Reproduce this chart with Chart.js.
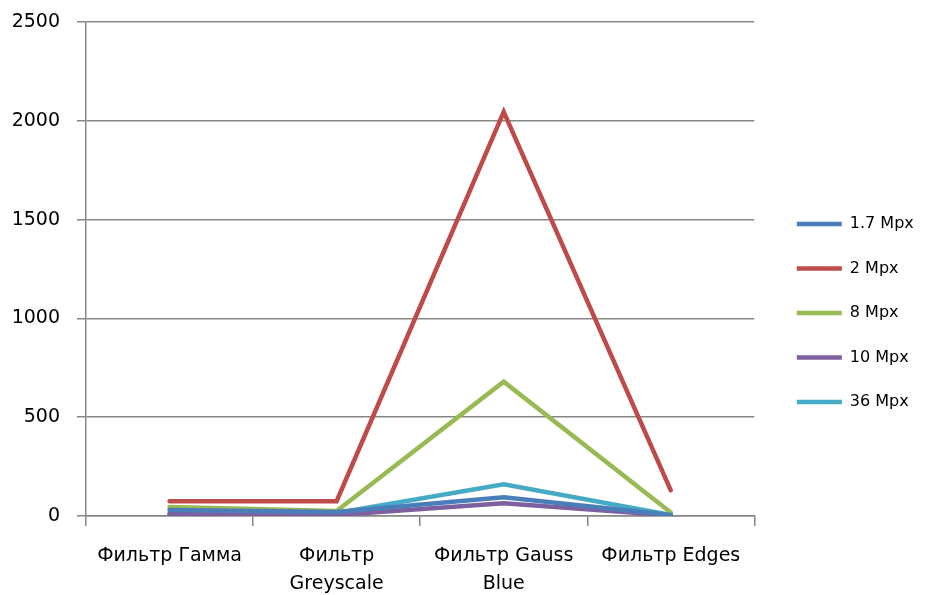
<!DOCTYPE html>
<html>
<head>
<meta charset="utf-8">
<script src="https://cdn.jsdelivr.net/npm/chart.js@4/dist/chart.umd.min.js"></script>
<style>
  body { margin: 0; background: #fff; }
</style>
</head>
<body>
<canvas id="grafico" width="928" height="595"></canvas>
<script>
// Категории и данные
const categories = [
    'Фильтр Гамма',
    ['Фильтр', 'Greyscale'],
    ['Фильтр Gauss', 'Blue'],
    'Фильтр Edges'
];
const mpx17 = [30, 20, 95, 5];
const mpx2 = [75, 75, 2045, 130];
const mpx8 = [45, 25, 680, 18];
const mpx10 = [10, 5, 65, 3];
const mpx36 = [10, 15, 160, 5];
const yTicks = [0, 500, 1000, 1500, 2000, 2500];

const font = '"DejaVu Sans", Verdana, sans-serif';
const gris = '#868686';

function serie(label, data, color) {
    return {
        label: label,
        data: data,
        borderColor: color,
        backgroundColor: color,
        borderWidth: 4.5,
        pointRadius: 0,
        tension: 0,
        borderCapStyle: 'round'
    };
}

new Chart(document.getElementById('grafico'), {
    type: 'line',
    data: {
        labels: categories,
        datasets: [
            serie('1.7 Mpx', mpx17, '#4a7ebb'),
            serie('2 Mpx', mpx2, '#be4b48'),
            serie('8 Mpx', mpx8, '#98b954'),
            serie('10 Mpx', mpx10, '#7d60a0'),
            serie('36 Mpx', mpx36, '#46aac5')
        ]
    },
    options: {
        responsive: false,
        animation: false,
        layout: { padding: { top: 0, right: 6, left: 0, bottom: -19 } },
        plugins: {
            tooltip: { enabled: false },
            legend: {
                position: 'right',
                // пустой заголовок сдвигает легенду немного вниз
                title: { display: true, text: '', padding: 6, font: { size: 10, lineHeight: '0px' } },
                labels: {
                    usePointStyle: true,
                    pointStyle: 'line',
                    pointStyleWidth: 45,
                    padding: 28.5,
                    color: '#000',
                    font: { family: font, size: 16 }
                }
            }
        },
        scales: {
            x: {
                offset: true,
                grid: {
                    offset: true,
                    drawOnChartArea: false,
                    drawTicks: true,
                    tickLength: 10,
                    color: gris,
                    lineWidth: 1.5
                },
                border: { color: gris, width: 1.5 },
                ticks: {
                    color: '#000',
                    padding: 16,
                    maxRotation: 0,
                    autoSkip: false,
                    font: { family: font, size: 19, lineHeight: '28px' }
                }
            },
            y: {
                min: 0,
                max: 2500,
                afterBuildTicks: function(scale) {
                    scale.ticks = yTicks.map(function(v) { return { value: v }; });
                },
                afterFit: function(scale) {
                    scale.width = 86;
                    scale.paddingTop = 22;
                },
                grid: {
                    color: gris,
                    lineWidth: 1.5,
                    tickLength: 9
                },
                border: { color: gris, width: 1.5 },
                ticks: {
                    color: '#000',
                    padding: 17,
                    font: { family: font, size: 19 },
                    callback: function(v) { return String(v); }
                }
            },
            // пустое место между графиком и легендой
            gap: {
                type: 'linear',
                position: 'right',
                afterFit: function(scale) { scale.width = 14; },
                grid: { display: false },
                border: { display: false },
                ticks: { display: false }
            }
        }
    }
});
</script>
</body>
</html>
